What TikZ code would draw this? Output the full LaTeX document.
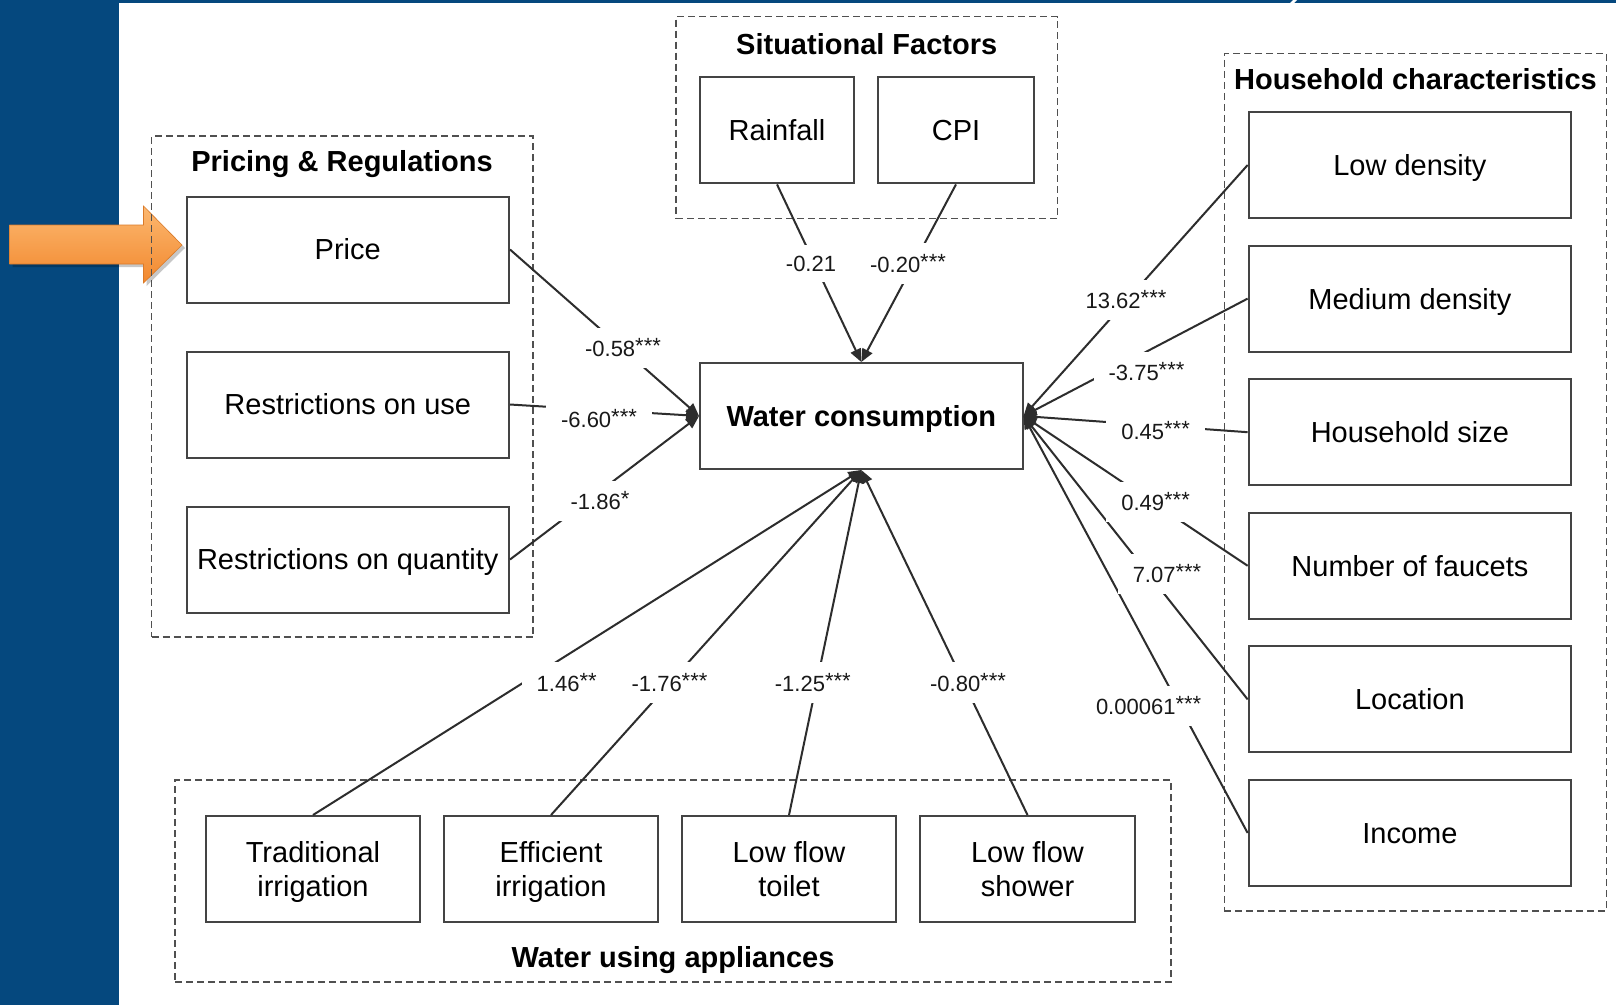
\documentclass[tikz,border=0pt]{standalone}
\usepackage{fontspec}
\setmainfont{Liberation Sans}
\usetikzlibrary{arrows.meta}
\definecolor{bgblue}{RGB}{5,72,126}
\definecolor{boxgray}{RGB}{68,68,68}
\definecolor{dashgray}{RGB}{80,80,80}
\definecolor{linegray}{RGB}{45,45,45}
\definecolor{orangeA}{RGB}{252,184,112}
\definecolor{orangeB}{RGB}{242,136,46}
\newcommand\stars[1]{\raisebox{3pt}{#1}}
\tikzset{
  box/.style={draw=boxgray, line width=2pt, fill=white, minimum width=322.5pt,
    minimum height=106pt, inner sep=0pt, font=\fontsize{29}{33}\selectfont,
    text height=20.8pt, text depth=0pt},
  appbox/.style={draw=boxgray, line width=2pt, fill=white, minimum width=214.5pt,
    minimum height=106pt, inner sep=0pt, align=center,
    font=\fontsize{29}{34}\selectfont, text height=55.4pt, text depth=0pt},
  group/.style={draw=dashgray, line width=1.4pt, dash pattern=on 7pt off 4pt,
    inner sep=0pt},
  gtitle/.style={font=\bfseries\fontsize{29}{33}\selectfont, anchor=base, inner sep=0pt},
  conn/.style={draw=linegray, line width=2pt, -{Triangle[length=13pt,width=11pt]}},
  coef/.style={fill=white, inner xsep=15pt, inner ysep=11pt,
    font=\fontsize{22}{24}\selectfont, text=black!90},
}
\begin{document}
\begin{tikzpicture}[x=1pt,y=-1pt]
\useasboundingbox (0,0) rectangle (1616,1005);
% background
\fill[white] (0,0) rectangle (1616,1005);
\fill[bgblue] (0,0) rectangle (118.5,1005);
\fill[bgblue] (0,0) rectangle (1616,3);
\fill[white] (1290,3) -- (1293,0) -- (1297,0) -- (1294,3) -- cycle;

% orange arrow
\fill[black, opacity=0.22] (12.6,228) -- (146.5,228) -- (146.5,209) -- (185,248) -- (146.5,286) -- (146.5,267) -- (12.6,267) -- cycle;
\shade[top color=orangeA, bottom color=orangeB, draw=orangeB!90!black, line width=0.6pt]
  (9.6,225) -- (143.5,225) -- (143.5,206) -- (182,245) -- (143.5,283) -- (143.5,264) -- (9.6,264) -- cycle;

% group frames
\node[group, minimum width=381.5pt, minimum height=501pt] (gprice) at (342.25,386.5) {};
\node[gtitle] (tprice) at (342,171.5) {Pricing \& Regulations};
\node[group, minimum width=381.4pt, minimum height=202pt] (gsit) at (866.7,117.5) {};
\node[gtitle] (tsit) at (866.7,54.7) {Situational Factors};
\node[group, minimum width=382.2pt, minimum height=857.4pt] (ghouse) at (1415.5,482.3) {};
\node[gtitle] (thouse) at (1415.5,89) {Household characteristics};
\node[group, minimum width=996pt, minimum height=202pt] (gapp) at (673,881) {};
\node[gtitle] (tapp) at (673,967) {Water using appliances};

% boxes
\node[box] (price) at (347.75,249.5) {Price};
\node[box] (ruse) at (347.75,404.5) {Restrictions on use};
\node[box] (rqty) at (347.75,559.5) {Restrictions on quantity};
\node[box, minimum width=154.5pt] (rain) at (777,130.4) {Rainfall};
\node[box, minimum width=155.7pt] (cpi) at (956,130.4) {CPI};
\node[box, font=\bfseries\fontsize{29}{33}\selectfont] (wc) at (861.3,416) {Water consumption};
\node[box] (low) at (1409.9,165) {Low density};
\node[box] (med) at (1409.9,298.6) {Medium density};
\node[box] (hsize) at (1409.9,432.2) {Household size};
\node[box] (fauc) at (1409.9,565.8) {Number of faucets};
\node[box] (loc) at (1409.9,699.4) {Location};
\node[box] (inc) at (1409.9,833) {Income};
\node[appbox] (trad) at (313,869) {Traditional\\irrigation};
\node[appbox] (eff) at (551,869) {Efficient\\irrigation};
\node[appbox] (toil) at (789,869) {Low flow\\toilet};
\node[appbox] (show) at (1027.5,869) {Low flow\\shower};

% connectors
\draw[conn] (price.east) -- (wc.west);
\draw[conn] (ruse.east) -- (wc.west);
\draw[conn] (rqty.east) -- (wc.west);
\draw[conn] (rain.south) -- (wc.north);
\draw[conn] (cpi.south) -- (wc.north);
\draw[conn] (low.west) -- (wc.east);
\draw[conn] (med.west) -- (wc.east);
\draw[conn] (hsize.west) -- (wc.east);
\draw[conn] (fauc.west) -- (wc.east);
\draw[conn] (loc.west) -- (wc.east);
\draw[conn] (inc.west) -- (wc.east);
\draw[conn] (trad.north) -- (wc.south);
\draw[conn] (eff.north) -- (wc.south);
\draw[conn] (toil.north) -- (wc.south);
\draw[conn] (show.north) -- (wc.south);

% coefficient labels
\node[coef] (c1) at (623,348) {-0.58\stars{***}};
\node[coef] (c2) at (599,419) {-6.60\stars{***}};
\node[coef] (c3) at (600,501) {-1.86\stars{*}};
\node[coef] (c4) at (811,263.5) {-0.21};
\node[coef] (c5) at (908,263.5) {-0.20\stars{***}};
\node[coef] (c6) at (1126,300) {13.62\stars{***}};
\node[coef] (c7) at (1146.5,372) {-3.75\stars{***}};
\node[coef] (c8) at (1155.6,431) {0.45\stars{***}};
\node[coef] (c9) at (1155.6,502) {0.49\stars{***}};
\node[coef] (c10) at (1167,574) {7.07\stars{***}};
\node[coef] (c11) at (1148.6,706) {0.00061\stars{***}};
\node[coef] (c12) at (566.7,682.5) {1.46\stars{**}};
\node[coef] (c13) at (669.5,682.5) {-1.76\stars{***}};
\node[coef] (c14) at (812.8,682.5) {-1.25\stars{***}};
\node[coef] (c15) at (968,682.5) {-0.80\stars{***}};
\end{tikzpicture}
\end{document}
